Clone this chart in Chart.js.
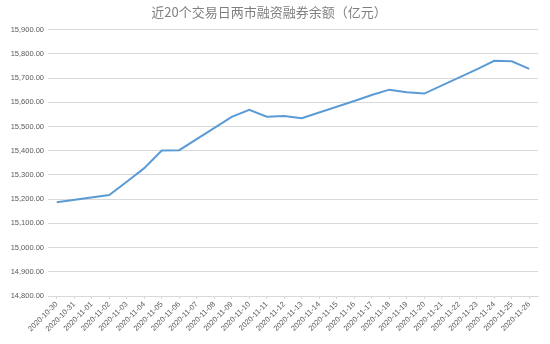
<!DOCTYPE html>
<html>
<head>
<meta charset="utf-8">
<script src="https://cdn.jsdelivr.net/npm/chart.js@4/dist/chart.umd.min.js"></script>
<style>
html,body{margin:0;padding:0;background:#fff;}
#wrap{width:550px;height:344px;position:relative;}
</style>
</head>
<body>
<div id="wrap"><canvas id="c" width="550" height="344"></canvas></div>
<script>
const titleText = "近20个交易日两市融资融券余额（亿元）";
const dates = ["2020-10-30","2020-10-31","2020-11-01","2020-11-02","2020-11-03","2020-11-04","2020-11-05","2020-11-06","2020-11-07","2020-11-08","2020-11-09","2020-11-10","2020-11-11","2020-11-12","2020-11-13","2020-11-14","2020-11-15","2020-11-16","2020-11-17","2020-11-18","2020-11-19","2020-11-20","2020-11-21","2020-11-22","2020-11-23","2020-11-24","2020-11-25","2020-11-26"];
const balance = [15187,null,null,15217,15272,15328,15401,15402,null,null,15540,15569,15540,15543,15534,null,null,15605,15630,15652,15641,15636,null,null,15736,15771,15769,15738];
const yMin = 14800, yMax = 15900, yStep = 100;

new Chart(document.getElementById('c'), {
  type: 'line',
  data: {
    labels: dates,
    datasets: [{
      data: balance,
      borderColor: '#5b9bd5',
      borderWidth: 2,
      pointRadius: 0,
      tension: 0,
      spanGaps: true,
      fill: false
    }]
  },
  options: {
    responsive: false,
    animation: false,
    devicePixelRatio: 1,
    layout: { padding: { top: 0, right: 12, bottom: 0, left: 0 } },
    plugins: {
      legend: { display: false },
      tooltip: { enabled: false },
      title: {
        display: true,
        text: titleText,
        color: '#7f7f7f',
        font: { family: '"Noto Sans CJK SC", sans-serif', size: 13, weight: 'normal' },
        padding: { top: 4, bottom: 10 }
      }
    },
    scales: {
      x: {
        offset: true,
        grid: { display: true, drawOnChartArea: false, drawTicks: true, tickLength: 3, color: '#d9d9d9' },
        border: { display: true, color: '#d9d9d9' },
        ticks: {
          autoSkip: false,
          maxRotation: 45,
          minRotation: 45,
          color: '#595959',
          padding: 1,
          font: { family: '"Liberation Sans", sans-serif', size: 7.5 }
        },
        afterFit: (s) => { s.height = 48; }
      },
      y: {
        min: yMin,
        max: yMax,
        grid: { color: '#d9d9d9', drawTicks: false },
        border: { display: false },
        ticks: {
          stepSize: yStep,
          color: '#595959',
          padding: 4,
          font: { family: '"Liberation Sans", sans-serif', size: 7.5 },
          callback: (v) => Number(v).toLocaleString('en-US', { minimumFractionDigits: 2, maximumFractionDigits: 2 })
        },
        afterFit: (s) => { s.width = 48; }
      }
    }
  }
});
</script>
</body>
</html>
